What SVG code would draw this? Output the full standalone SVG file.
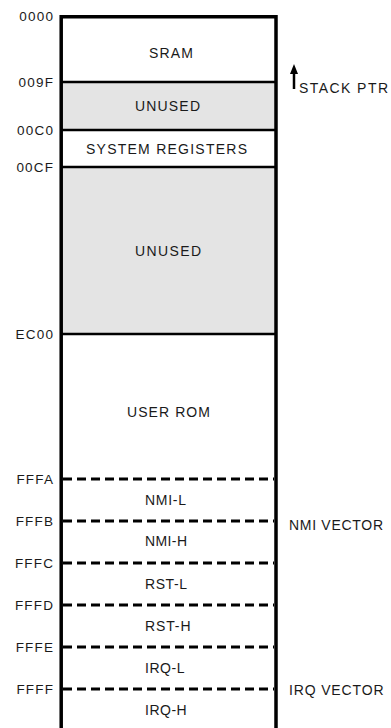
<svg xmlns="http://www.w3.org/2000/svg" width="391" height="728" viewBox="0 0 391 728">
<style>
text{font-family:"Liberation Sans",Arial,sans-serif;font-size:14px;fill:#1a1a1a}
.addr{font-size:13.5px;text-anchor:end;letter-spacing:1.2px}
.sep{stroke:#000;stroke-width:2.5;fill:none}
.dash{stroke:#000;stroke-width:3;stroke-dasharray:9 5;fill:none}
.border{stroke:#000;stroke-width:3.5;fill:none}
.unused{fill:#e4e4e4}
</style>
<rect width="391" height="728" fill="#fff"/>
<g id="region-sram"><text x="149" y="57.5" textLength="44" lengthAdjust="spacing">SRAM</text></g>
<g id="region-unused1"><rect class="unused" x="61" y="82" width="215" height="48"/><text x="135" y="111" textLength="65" lengthAdjust="spacing">UNUSED</text></g>
<g id="region-sysreg"><text x="86" y="154" textLength="161" lengthAdjust="spacing">SYSTEM REGISTERS</text></g>
<g id="region-unused2"><rect class="unused" x="61" y="167" width="215" height="167"/><text x="135" y="255.5" textLength="66" lengthAdjust="spacing">UNUSED</text></g>
<g id="region-userrom"><text x="127" y="416.5" textLength="83" lengthAdjust="spacing">USER ROM</text></g>
<g id="region-nmil"><text x="145" y="504.5" textLength="41" lengthAdjust="spacing">NMI-L</text></g>
<g id="region-nmih"><text x="145" y="546" textLength="42" lengthAdjust="spacing">NMI-H</text></g>
<g id="region-rstl"><text x="145" y="588.5" textLength="42" lengthAdjust="spacing">RST-L</text></g>
<g id="region-rsth"><text x="145" y="630.5" textLength="45.5" lengthAdjust="spacing">RST-H</text></g>
<g id="region-irql"><text x="145" y="672.5" textLength="39.5" lengthAdjust="spacing">IRQ-L</text></g>
<g id="region-irqh"><text x="145" y="715" textLength="41.7" lengthAdjust="spacing">IRQ-H</text></g>
<g id="connectors">
<line class="sep" x1="61" y1="82" x2="276" y2="82"/>
<line class="sep" x1="61" y1="130" x2="276" y2="130"/>
<line class="sep" x1="61" y1="167" x2="276" y2="167"/>
<line class="sep" x1="61" y1="334" x2="276" y2="334"/>
<line class="dash" x1="63" y1="479" x2="274" y2="479"/>
<line class="dash" x1="63" y1="521" x2="274" y2="521"/>
<line class="dash" x1="63" y1="563" x2="274" y2="563"/>
<line class="dash" x1="63" y1="605" x2="274" y2="605"/>
<line class="dash" x1="63" y1="647" x2="274" y2="647"/>
<line class="dash" x1="63" y1="689" x2="274" y2="689"/>
<path class="border" d="M61.2,728 V16.8 H276 V728"/>
<line x1="294" y1="72" x2="294" y2="89" stroke="#000" stroke-width="2.5"/>
<polygon points="290,74 298,74 294,64" fill="#000"/>
</g>
<g id="addresses">
<text class="addr" x="54.2" y="21">0000</text>
<text class="addr" x="54.2" y="86.5">009F</text>
<text class="addr" x="54.2" y="134.5">00C0</text>
<text class="addr" x="54.2" y="171.5">00CF</text>
<text class="addr" x="54.2" y="338.5">EC00</text>
<text class="addr" x="54.2" y="483.5">FFFA</text>
<text class="addr" x="54.2" y="525.5">FFFB</text>
<text class="addr" x="54.2" y="567.5">FFFC</text>
<text class="addr" x="54.2" y="609.5">FFFD</text>
<text class="addr" x="54.2" y="651.5">FFFE</text>
<text class="addr" x="54.2" y="693.5">FFFF</text>
</g>
<g id="side-labels">
<text x="299" y="93" textLength="89" lengthAdjust="spacing">STACK PTR</text>
<text x="289" y="529.5" textLength="94" lengthAdjust="spacing">NMI VECTOR</text>
<text x="289" y="695" textLength="94.5" lengthAdjust="spacing">IRQ VECTOR</text>
</g>
</svg>
